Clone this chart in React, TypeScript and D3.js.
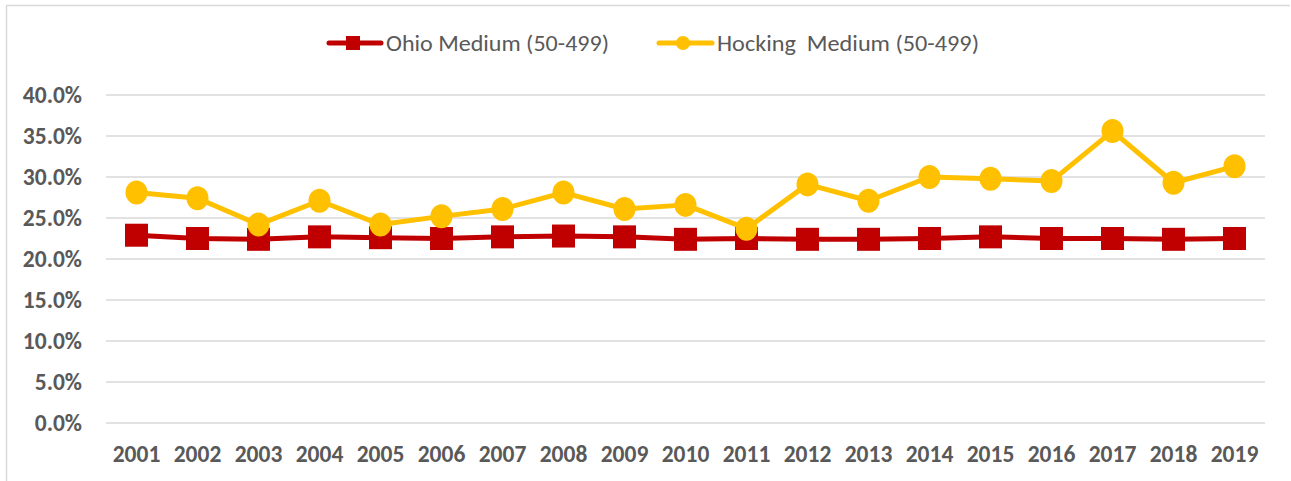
import React from "react";
import * as d3 from "d3";

const years = ["2001","2002","2003","2004","2005","2006","2007","2008","2009","2010","2011","2012","2013","2014","2015","2016","2017","2018","2019"];
const ohioMedium = [22.9,22.5,22.4,22.7,22.6,22.5,22.7,22.8,22.7,22.4,22.5,22.4,22.4,22.5,22.7,22.5,22.5,22.4,22.5];
const hockingMedium = [28.1,27.4,24.2,27.1,24.2,25.2,26.1,28.1,26.1,26.6,23.7,29.1,27.1,30.0,29.8,29.5,35.6,29.3,31.3];
const yTicks = [0,5,10,15,20,25,30,35,40];

const W = 1291;
const H = 481;
const FONT = "Carlito, Lato, 'Liberation Sans', sans-serif";
const TEXT = "#595959";
const RED = "#C00000";
const GOLD = "#FFC000";

export default function App() {
  // plot area
  const left = 106, right = 1265, top = 95, bottom = 423;

  const x = d3.scaleBand().domain(years).range([left, right]);
  const y = d3.scaleLinear().domain([0, 40]).range([bottom, top]);
  const cx = (yr: string) => (x(yr) as number) + x.bandwidth() / 2;

  const line = d3.line<number>()
    .x((_, i) => cx(years[i]))
    .y(d => y(d));

  return (
    <svg width={W} height={H} style={{ position: "absolute", left: 0, top: 0, background: "#fff" }}>
      {/* chart border (only top & left visible) */}
      <line x1={6} x2={1290} y1={5.5} y2={5.5} stroke="#d9d9d9" strokeWidth={1.5} />
      <line x1={6.5} x2={6.5} y1={5} y2={H} stroke="#d9d9d9" strokeWidth={1.5} />

      {/* gridlines */}
      {yTicks.map(t => (
        <line key={t} x1={left} x2={right} y1={y(t)} y2={y(t)} stroke="#d9d9d9" strokeWidth={1.5} />
      ))}

      {/* y tick labels */}
      {yTicks.map(t => (
        <text key={"yl" + t} x={82} y={y(t)} dy="0.35em" textAnchor="end"
          style={{ fontFamily: FONT, fontWeight: "bold", fontSize: 23.5, fill: TEXT }}>
          {d3.format(".1f")(t) + "%"}
        </text>
      ))}

      {/* x tick labels */}
      {years.map(yr => (
        <text key={"xl" + yr} x={cx(yr)} y={454} dy="0.35em" textAnchor="middle"
          style={{ fontFamily: FONT, fontWeight: "bold", fontSize: 23.5, fill: TEXT }}>
          {yr}
        </text>
      ))}

      {/* Ohio series */}
      <path d={line(ohioMedium) || ""} fill="none" stroke={RED} strokeWidth={5} strokeLinejoin="round" />
      {ohioMedium.map((v, i) => (
        <rect key={"o" + i} x={cx(years[i]) - 11.5} y={y(v) - 11.5} width={23} height={23} fill={RED} />
      ))}

      {/* Hocking series */}
      <path d={line(hockingMedium) || ""} fill="none" stroke={GOLD} strokeWidth={5} strokeLinejoin="round" />
      {hockingMedium.map((v, i) => (
        <ellipse key={"h" + i} cx={cx(years[i])} cy={y(v)} rx={11} ry={12} fill={GOLD} />
      ))}

      {/* legend */}
      <g>
        <line x1={329} x2={381} y1={43} y2={43} stroke={RED} strokeWidth={5} strokeLinecap="round" />
        <rect x={346} y={36} width={14} height={14} fill={RED} />
        <text x={386} y={43} dy="0.35em" textLength={223} lengthAdjust="spacingAndGlyphs"
          style={{ fontFamily: FONT, fontSize: 22, fill: TEXT }}>
          Ohio Medium (50-499)
        </text>
        <line x1={659} x2={712} y1={43} y2={43} stroke={GOLD} strokeWidth={5} strokeLinecap="round" />
        <circle cx={683} cy={43} r={7} fill={GOLD} />
        <text x={717} y={43} dy="0.35em" textLength={262} lengthAdjust="spacingAndGlyphs"
          style={{ fontFamily: FONT, fontSize: 22, fill: TEXT, whiteSpace: "pre" }}>
          {"Hocking  Medium (50-499)"}
        </text>
      </g>
    </svg>
  );
}
